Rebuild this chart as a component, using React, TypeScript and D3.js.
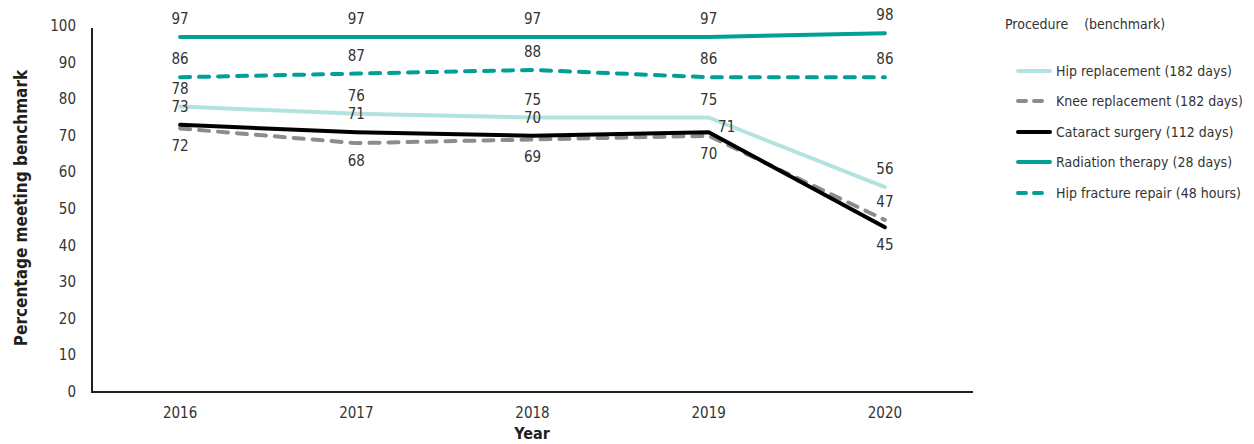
import React from "react";
import * as d3 from "d3";

const years = ["2016", "2017", "2018", "2019", "2020"];
const hipReplacement = [78, 76, 75, 75, 56];
const kneeReplacement = [72, 68, 69, 70, 47];
const cataractSurgery = [73, 71, 70, 71, 45];
const radiationTherapy = [97, 97, 97, 97, 98];
const hipFractureRepair = [86, 87, 88, 86, 86];
const yTicks = [0, 10, 20, 30, 40, 50, 60, 70, 80, 90, 100];

type Series = {
  name: string;
  values: number[];
  color: string;
  dash?: string;
  labelPos: ("above" | "below" | "right")[];
};

const series: Series[] = [
  { name: "Hip replacement (182 days)", values: hipReplacement, color: "#b3e3df", labelPos: ["above", "above", "above", "above", "above"] },
  { name: "Knee replacement (182 days)", values: kneeReplacement, color: "#8c8c8c", dash: "10 9", labelPos: ["below", "below", "below", "below", "above"] },
  { name: "Cataract surgery (112 days)", values: cataractSurgery, color: "#000000", labelPos: ["above", "above", "above", "right", "below"] },
  { name: "Radiation therapy (28 days)", values: radiationTherapy, color: "#00a096", labelPos: ["above", "above", "above", "above", "above"] },
  { name: "Hip fracture repair (48 hours)", values: hipFractureRepair, color: "#00a096", dash: "10 9", labelPos: ["above", "above", "above", "above", "above"] },
];

const FONT = "'Liberation Sans Narrow', 'DejaVu Sans Condensed', 'Roboto Condensed', Roboto, sans-serif";

export default function App() {
  const W = 1254, H = 444;
  const left = 92, right = 973, top = 26, bottom = 392;
  const x = d3.scaleBand<string>().domain(years).range([left, right]);
  const y = d3.scaleLinear().domain([0, 100]).range([bottom, top]);
  const cx = (yr: string) => (x(yr) as number) + x.bandwidth() / 2;
  const line = d3
    .line<number>()
    .x((_, i) => cx(years[i]))
    .y((v) => y(v))
    .curve(d3.curveLinear);

  const legendY = [71, 101, 132, 162, 193];

  return (
    <svg width={W} height={H} style={{ position: "absolute", left: 0, top: 0 }} fontFamily={FONT}>
      <rect width={W} height={H} fill="#fff" />
      {/* axes */}
      <line x1={left} x2={left} y1={28} y2={bottom} stroke="#231f20" strokeWidth={2} />
      <line x1={left - 1} x2={right} y1={bottom} y2={bottom} stroke="#231f20" strokeWidth={2} />
      {yTicks.map((t) => (
        <text key={t} x={76} y={y(t)} textAnchor="end" dominantBaseline="central" fontSize={15} fill="#333">
          {t}
        </text>
      ))}
      {years.map((yr) => (
        <text key={yr} x={cx(yr)} y={413} textAnchor="middle" dominantBaseline="central" fontSize={15} fill="#333">
          {yr}
        </text>
      ))}
      <text x={532} y={433} textAnchor="middle" dominantBaseline="central" fontSize={16} fontWeight="bold" fill="#231f20">
        Year
      </text>
      <text
        transform={`translate(21,208) rotate(-90)`}
        textAnchor="middle"
        dominantBaseline="central"
        fontSize={17}
        fontWeight="bold"
        fill="#231f20"
      >
        Percentage meeting benchmark
      </text>
      {/* lines */}
      {series.map((s) => (
        <path
          key={s.name}
          d={line(s.values) || ""}
          fill="none"
          stroke={s.color}
          strokeWidth={4}
          strokeDasharray={s.dash}
          strokeLinecap="round"
          strokeLinejoin="round"
        />
      ))}
      {/* labels */}
      {series.map((s) =>
        s.values.map((v, i) => {
          const pos = s.labelPos[i];
          const px = cx(years[i]);
          const py = y(v);
          let tx = px, ty = py - 18;
          if (pos === "below") ty = py + 18;
          if (pos === "right") { tx = px + 18; ty = py - 5; }
          return (
            <text key={s.name + i} x={tx} y={ty} textAnchor="middle" dominantBaseline="central" fontSize={15} fill="#333">
              {v}
            </text>
          );
        })
      )}
      {/* legend */}
      <text x={1005} y={24} dominantBaseline="central" fontSize={14} fill="#333">
        Procedure{"\u00a0\u00a0\u00a0\u00a0"}(benchmark)
      </text>
      {series.map((s, i) => (
        <g key={s.name}>
          <line
            x1={1018}
            x2={1050}
            y1={legendY[i]}
            y2={legendY[i]}
            stroke={s.color}
            strokeWidth={4}
            strokeDasharray={s.dash ? "8 8" : undefined}
            strokeLinecap="round"
          />
          <text x={1056} y={legendY[i]} dominantBaseline="central" fontSize={14} fill="#333">
            {s.name}
          </text>
        </g>
      ))}
    </svg>
  );
}
